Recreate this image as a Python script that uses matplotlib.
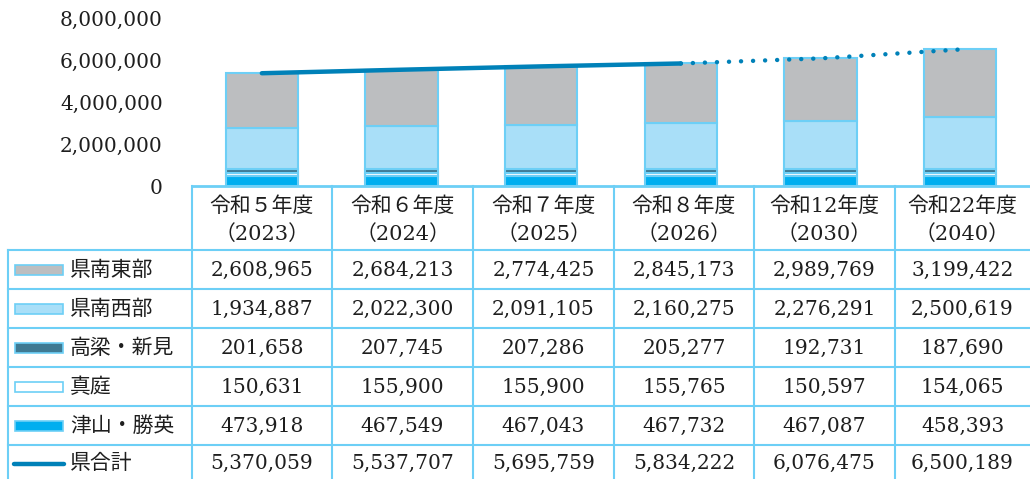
import matplotlib.pyplot as plt
from matplotlib.patches import Rectangle
from matplotlib.lines import Line2D

plt.rcParams['font.family'] = ['DejaVu Serif', 'Noto Sans CJK JP']

years = ["令和５年度\n（2023）", "令和６年度\n（2024）", "令和７年度\n（2025）",
         "令和８年度\n（2026）", "令和12年度\n（2030）", "令和22年度\n（2040）"]
names = ["県南東部", "県南西部", "高梁・新見", "真庭", "津山・勝英"]
nanto = [2608965, 2684213, 2774425, 2845173, 2989769, 3199422]
nansei = [1934887, 2022300, 2091105, 2160275, 2276291, 2500619]
takahashi = [201658, 207745, 207286, 205277, 192731, 187690]
maniwa = [150631, 155900, 155900, 155765, 150597, 154065]
tsuyama = [473918, 467549, 467043, 467732, 467087, 458393]
total = [5370059, 5537707, 5695759, 5834222, 6076475, 6500189]
line_name = "県合計"

edge = "#6dcff6"
colors = ["#bcbec0", "#a9dff8", "#3f7a93", "#ffffff", "#00aeef"]
line_col = "#0081b8"
txt = "#1e1e1e"

W, H = 1030, 479
fig = plt.figure(figsize=(W / 100, H / 100), dpi=100)

# chart area
ax = fig.add_axes([192 / W, 1 - 186 / H, 838 / W, 168 / H])
x = list(range(len(years)))
series = [nanto, nansei, takahashi, maniwa, tsuyama]
bottom = [0] * len(x)
for vals, col in zip(series[::-1], colors[::-1]):
    ax.bar(x, vals, 0.52, bottom=bottom, color=col, edgecolor=edge, linewidth=1.5)
    bottom = [b + v for b, v in zip(bottom, vals)]
ax.plot(x[:4], total[:4], color=line_col, lw=3.2, solid_capstyle='round')
ax.plot(x[3:], total[3:], color=line_col, lw=3.2, linestyle=(0, (0.01, 2.7)),
        dash_capstyle='round')
ax.set_xlim(-0.5, 5.5)
ax.set_ylim(0, 8000000)
ax.set_yticks([0, 2000000, 4000000, 6000000, 8000000])
ax.set_yticklabels(["0", "2,000,000", "4,000,000", "6,000,000", "8,000,000"],
                   fontsize=14.5, color=txt)
ax.tick_params(axis='y', length=0, pad=21)
ax.set_xticks([])
for s in ["top", "right", "left"]:
    ax.spines[s].set_visible(False)
ax.spines["bottom"].set_color(edge)
ax.spines["bottom"].set_linewidth(2)

# data table in pixel coordinates
tb = fig.add_axes([0, 0, 1, 1])
tb.set_xlim(0, W)
tb.set_ylim(H, 0)
tb.axis("off")
xb = [192, 332, 473, 614, 754, 895, 1040]
rows = [250, 289, 328, 367, 406, 445, 484]
for xv in xb:
    tb.plot([xv, xv], [186, 484], color=edge, lw=1.5)
tb.plot([8, 8], [250, 484], color=edge, lw=1.5)
for yv in rows:
    tb.plot([8, 1040], [yv, yv], color=edge, lw=1.5)

for i, lab in enumerate(years):
    cx = (xb[i] + xb[i + 1]) / 2 if i < 5 else (895 + 1030) / 2
    l1, l2 = lab.split("\n")
    tb.text(cx, 206, l1, ha="center", va="center", fontsize=15, color=txt)
    tb.text(cx, 234, l2, ha="center", va="center", fontsize=15, color=txt)

all_rows = series + [total]
labels = names + [line_name]
for r, (vals, lab) in enumerate(zip(all_rows, labels)):
    cy = (rows[r] + rows[r + 1]) / 2 + 0.5 if r < 5 else 463.5
    if r < 5:
        tb.add_patch(Rectangle((15, cy - 5), 48, 10, facecolor=colors[r],
                               edgecolor=edge, lw=1.2))
    else:
        tb.add_line(Line2D([14, 64], [cy, cy], color=line_col, lw=3.2,
                           solid_capstyle='round'))
    tb.text(70, cy, lab, ha="left", va="center", fontsize=15, color=txt)
    for i, v in enumerate(vals):
        cx = (xb[i] + xb[i + 1]) / 2 if i < 5 else (895 + 1030) / 2
        tb.text(cx, cy, f"{v:,}", ha="center", va="center", fontsize=14.5,
                color=txt)

fig.savefig("out.png", dpi=100)
